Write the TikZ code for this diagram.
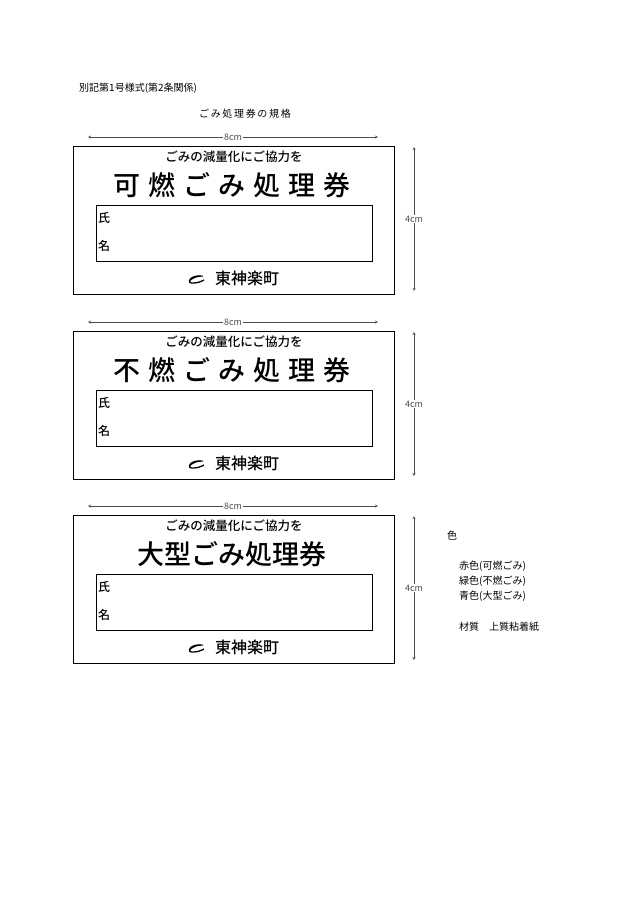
\documentclass[tikz,border=0pt]{standalone}
\usepackage{fontspec}
\newfontfamily\cjk{Noto Sans CJK JP}
\newfontfamily\cjkmed{Noto Sans CJK JP Medium}
\newcommand\tgap{\hspace{8pt}}
\begin{document}
\begin{tikzpicture}[
        x=1pt, y=-1pt,
        font=\cjk\fontsize{10}{12}\selectfont
    ]
    \tikzset{
        card/.style = {draw=black, thick},
        dim/.style = {<->, >=stealth, thin, black!70},
        dimlabel/.style = {fill=white, inner sep=1pt, font=\cjk\fontsize{9}{10}\selectfont},
        note/.style = {anchor=west, inner sep=0pt, font=\cjk\fontsize{10}{12}\selectfont},
    }
    \useasboundingbox (0,0) rectangle (630,903);
    \node[note] (form) at (79,88) {別記第1号様式(第2条関係)};
    \node[inner sep=0pt] (heading) at (245,114) {ご\,み\,処\,理\,券\,の\,規\,格};
    %
    \foreach \off/\title in {0/{可\tgap 燃\tgap ご\tgap み\tgap 処\tgap 理\tgap 券}, 185/{不\tgap 燃\tgap ご\tgap み\tgap 処\tgap 理\tgap 券}, 369/{大型ごみ処理券}} {
        \begin{scope}[yshift=-\off]
            \coordinate (wl) at (88,137);
            \coordinate (wr) at (378,137);
            \draw[dim] (wl) -- node[dimlabel] {8cm} (wr);
            \coordinate (ht) at (414,147);
            \coordinate (hb) at (414,291);
            \draw[dim] (ht) -- node[dimlabel] {4cm} (hb);
            \draw[card] (73,146) rectangle (394,294);
            \draw[card] (96,205) rectangle (372,261);
            \node[inner sep=0pt] (slogan) at (234,157) {\cjkmed\fontsize{12.5}{14}\selectfont ごみの減量化にご協力を};
            \node[inner sep=0pt] (title) at (232,185) {\cjkmed\fontsize{27}{30}\selectfont\title};
            \node[note] (shi) at (98,218) {\cjkmed\fontsize{12}{14}\selectfont 氏};
            \node[note] (mei) at (98,246) {\cjkmed\fontsize{12}{14}\selectfont 名};
            \node[inner sep=0pt] (town) at (247,278) {\cjkmed\fontsize{16}{18}\selectfont 東神楽町};
            \draw[line width=1.3pt] (201,276) .. controls (190,275) and (185,284) .. (194,283)
                .. controls (198,283) and (202,281) .. (204,280);
            \draw[line width=1pt] (189,281) .. controls (194,277) and (198,276) .. (203,276);
        \end{scope}
    }
    %
    \node[note] (iro) at (447,536) {色};
    \node[note] (red) at (459,566) {赤色(可燃ごみ)};
    \node[note] (green) at (459,581) {緑色(不燃ごみ)};
    \node[note] (blue) at (459,596) {青色(大型ごみ)};
    \node[note] (zai) at (459,627) {材質\quad 上質粘着紙};
\end{tikzpicture}
\end{document}
